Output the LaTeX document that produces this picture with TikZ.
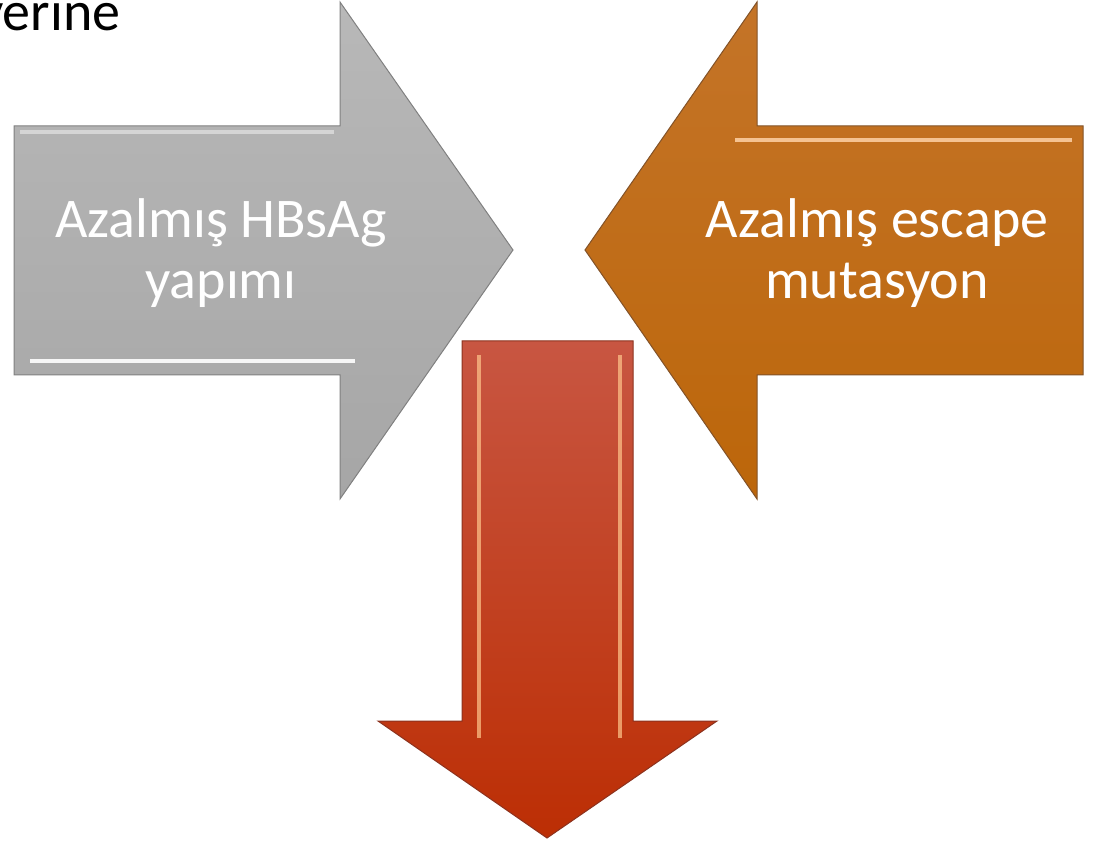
\documentclass[tikz,border=0pt]{standalone}
\usepackage{fontspec}
\setmainfont{Carlito}
\usetikzlibrary{positioning}
\definecolor{graytop}{RGB}{184,184,184}
\definecolor{graybot}{RGB}{166,166,166}
\definecolor{grayedge}{RGB}{128,128,128}
\definecolor{orangetop}{RGB}{196,116,40}
\definecolor{orangebot}{RGB}{188,102,10}
\definecolor{orangeedge}{RGB}{130,82,40}
\definecolor{redtop}{RGB}{200,86,66}
\definecolor{redbot}{RGB}{188,46,4}
\definecolor{rededge}{RGB}{140,50,30}
\begin{document}
\begin{tikzpicture}[x=1pt,y=-1pt, arrowbody/.style={line width=1pt, line join=miter}, arrowtext/.style={text=white, align=center, font=\fontsize{56}{61}\selectfont}, bevel/.style={line width=4pt}]
\useasboundingbox (0,0) rectangle (1096,842);
% left grey arrow
\draw[arrowbody, draw=grayedge, top color=graytop, bottom color=graybot] (14,126) -- (340,126) -- (340,2) -- (513,250) -- (340,499) -- (340,375) -- (14,375) -- cycle;
\draw[bevel, white, opacity=0.45] (20,132) -- (334,132);
\draw[bevel, white, opacity=0.9] (30,361) -- (355,361);
% right orange arrow
\draw[arrowbody, draw=orangeedge, top color=orangetop, bottom color=orangebot] (1083,126) -- (757,126) -- (757,2) -- (585,250) -- (757,499) -- (757,375) -- (1083,375) -- cycle;
\draw[bevel, orange!35!white, opacity=0.85] (735,140) -- (1072,140);
% red arrow down
\draw[arrowbody, draw=rededge, top color=redtop, bottom color=redbot] (462,341) -- (633,341) -- (633,721) -- (717,721) -- (547,838) -- (378,721) -- (462,721) -- cycle;
\draw[bevel, orange!45!white, opacity=0.7] (479,355) -- (479,738);
\draw[bevel, orange!45!white, opacity=0.7] (620,355) -- (620,738);
% texts
\node[arrowtext] (hbsag) at (221,253) {Azalmış HBsAg\\yapımı};
\node[arrowtext] (escape) at (877,253) {Azalmış escape\\mutasyon};
\node[anchor=base east, font=\fontsize{56}{61}\selectfont] (yerine) at (124,31) {yerine};
\end{tikzpicture}
\end{document}
